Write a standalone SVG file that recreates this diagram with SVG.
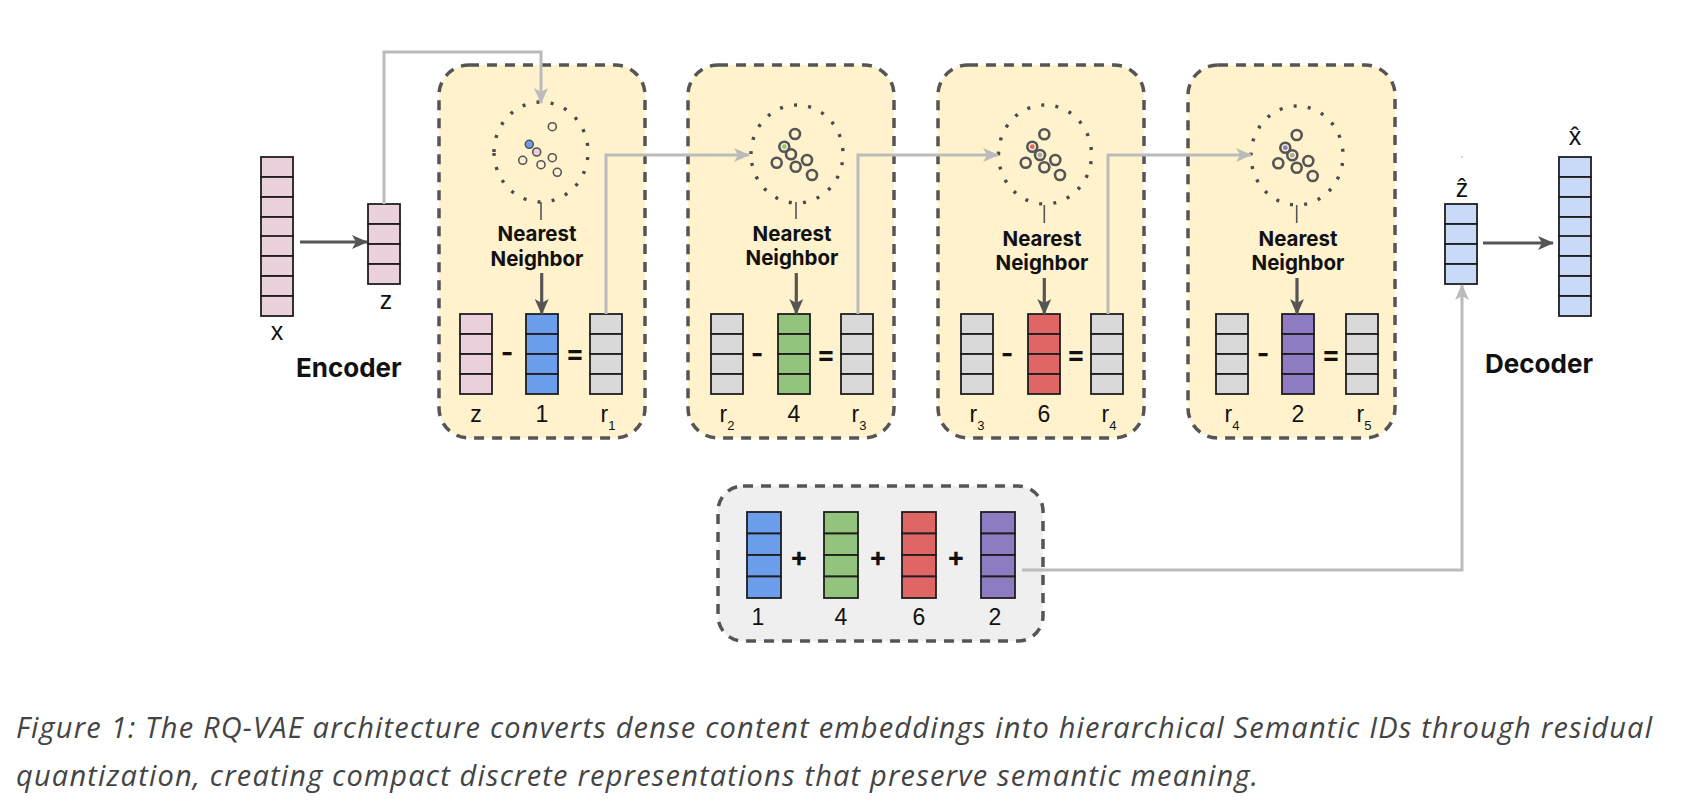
<svg xmlns="http://www.w3.org/2000/svg" xmlns:xlink="http://www.w3.org/1999/xlink" width="1692" height="801" viewBox="0 0 1692 801">
<style>
  .cell { stroke:#1e1e1e; stroke-width:1.8; }
  .pink { fill:#ead1dc; } .blue { fill:#6d9eeb; } .green { fill:#93c47d; }
  .red { fill:#e06666; } .purple { fill:#8e7cc3; } .gray { fill:#d9d9d9; } .lblue { fill:#c9daf8; }
  .box { fill:#fff2cc; stroke:#555; stroke-width:3.5; stroke-dasharray:10 8; }
  .sumbox { fill:#efefef; stroke:#555; stroke-width:3.5; stroke-dasharray:10 8; }
  .dots { fill:none; stroke:#4a4a4a; stroke-width:3.4; stroke-dasharray:3 11.3; }
  .pt1 { fill:none; stroke:#555; stroke-width:1.6; }
  .pt { fill:none; stroke:#555; stroke-width:2.6; }
  .tick { stroke:#555; stroke-width:1.6; }
  .darr { fill:none; stroke:#555; stroke-width:3.2; marker-end:url(#dhead); }
  .garr { fill:none; stroke:#bbb; stroke-width:3; marker-end:url(#ghead); }
  .nn { font-family:Inter, "Liberation Sans", sans-serif; font-weight:700; font-size:20.5px; fill:#111; text-anchor:middle; }
  .lbl { font-family:"Liberation Sans", Arial, sans-serif; font-size:23px; fill:#111; text-anchor:middle; }
  .sub { font-size:13px; }
  .big { font-family:"Liberation Sans", "DejaVu Sans", Arial, sans-serif; font-size:25px; fill:#111; text-anchor:middle; }
  .op { font-family:Inter, "Liberation Sans", sans-serif; font-weight:700; font-size:27px; fill:#111; text-anchor:middle; }
  .title { font-family:Inter, "Liberation Sans", sans-serif; font-weight:700; font-size:26px; fill:#111; }
  .cap { font-family:"Open Sans", "Noto Sans", sans-serif; font-style:italic; font-size:29px; fill:#444; }
</style>
<defs>
  <g id="v4">
    <rect class="cell" x="0" y="0" width="32" height="20"/>
    <rect class="cell" x="0" y="20" width="32" height="20"/>
    <rect class="cell" x="0" y="40" width="32" height="20"/>
    <rect class="cell" x="0" y="60" width="32" height="20"/>
  </g>
  <g id="v8">
    <use xlink:href="#v4"/>
    <use xlink:href="#v4" y="79"/>
  </g>
  <g id="v4b">
    <rect class="cell" x="0" y="0" width="34" height="21.5"/>
    <rect class="cell" x="0" y="21.5" width="34" height="21.5"/>
    <rect class="cell" x="0" y="43" width="34" height="21.5"/>
    <rect class="cell" x="0" y="64.5" width="34" height="21.5"/>
  </g>
  <marker id="dhead" markerUnits="userSpaceOnUse" markerWidth="18" markerHeight="18" viewBox="0 0 18 18" refX="16" refY="9" orient="auto">
    <path d="M1,2 L17,9 L1,16 L5,9 z" fill="#555"/>
  </marker>
  <marker id="ghead" markerUnits="userSpaceOnUse" markerWidth="18" markerHeight="18" viewBox="0 0 18 18" refX="16" refY="9" orient="auto">
    <path d="M1,2 L17,9 L1,16 L5,9 z" fill="#bbb"/>
  </marker>
</defs>

<rect x="0" y="0" width="1692" height="801" fill="#ffffff"/>

<!-- Encoder -->
<g id="encoder">
  <use xlink:href="#v8" class="pink" x="261" y="157"/>
  <text class="big" x="277" y="340">x</text>
  <use xlink:href="#v4" class="pink" x="368" y="204"/>
  <text class="big" x="386" y="309">z</text>
  <text class="title" x="296" y="377">Encoder</text>
</g>

<!-- Quantizer stage 1 -->
<g id="stage1">
  <rect class="box" x="439" y="65" width="206" height="373" rx="30"/>
  <ellipse class="dots" cx="541" cy="152" rx="47" ry="50" transform="rotate(180 541 152)"/>
  <circle class="pt1" cx="552.3" cy="126.7" r="4"/>
  <circle cx="529.3" cy="144.3" r="4" fill="#6d9eeb" stroke="#555" stroke-width="1.6"/>
  <circle cx="536.7" cy="152" r="4" fill="#ead1dc" stroke="#555" stroke-width="1.6"/>
  <circle class="pt1" cx="522.7" cy="160.3" r="4"/>
  <circle class="pt1" cx="541" cy="164.7" r="4"/>
  <circle class="pt1" cx="552.3" cy="157.7" r="4"/>
  <circle class="pt1" cx="557.3" cy="172.3" r="4"/>
  <line class="tick" x1="541" y1="202" x2="541" y2="220"/>
  <text class="nn" x="537" y="241">Nearest</text>
  <text class="nn" x="537" y="266">Neighbor</text>
  <use xlink:href="#v4" class="pink" x="460" y="314"/>
  <use xlink:href="#v4" class="blue" x="526" y="314"/>
  <use xlink:href="#v4" class="gray" x="590" y="314"/>
  <text class="op" x="507" y="362">-</text>
  <text class="op" x="575" y="363">=</text>
  <text class="lbl" x="476" y="422">z</text>
  <text class="lbl" x="542" y="422">1</text>
  <text class="lbl" x="608" y="422">r<tspan class="sub" dy="8">1</tspan></text>
</g>

<!-- Quantizer stage 2 -->
<g id="stage2">
  <rect class="box" x="688" y="65" width="206" height="373" rx="30"/>
  <ellipse class="dots" cx="797" cy="154" rx="46" ry="49" transform="rotate(180 797 154)"/>
  <circle class="pt" cx="795" cy="134" r="5"/>
  <circle class="pt" cx="784.3" cy="146.7" r="5"/>
  <circle cx="784.3" cy="146.7" r="2.4" fill="#93c47d"/>
  <circle class="pt" cx="791" cy="154.3" r="5"/>
  <circle class="pt" cx="776.7" cy="162.7" r="5"/>
  <circle class="pt" cx="795.7" cy="166.7" r="5"/>
  <circle class="pt" cx="807" cy="160" r="5"/>
  <circle class="pt" cx="812" cy="175" r="5"/>
  <line class="tick" x1="796" y1="202" x2="796" y2="219"/>
  <text class="nn" x="792" y="241">Nearest</text>
  <text class="nn" x="792" y="265">Neighbor</text>
  <use xlink:href="#v4" class="gray" x="711" y="314"/>
  <use xlink:href="#v4" class="green" x="778" y="314"/>
  <use xlink:href="#v4" class="gray" x="841" y="314"/>
  <text class="op" x="757" y="363">-</text>
  <text class="op" x="826" y="364">=</text>
  <text class="lbl" x="727" y="422">r<tspan class="sub" dy="8">2</tspan></text>
  <text class="lbl" x="794" y="422">4</text>
  <text class="lbl" x="859" y="422">r<tspan class="sub" dy="8">3</tspan></text>
</g>

<!-- Quantizer stage 3 -->
<g id="stage3">
  <rect class="box" x="938" y="65" width="206" height="373" rx="30"/>
  <ellipse class="dots" cx="1045" cy="154.5" rx="46.5" ry="49.5" transform="rotate(180 1045 154.5)"/>
  <circle class="pt" cx="1044.3" cy="134.3" r="5"/>
  <circle class="pt" cx="1032.3" cy="146.7" r="5"/>
  <circle cx="1032.3" cy="146.7" r="2.4" fill="#e06666"/>
  <circle class="pt" cx="1040" cy="155" r="5"/>
  <circle cx="1040" cy="155" r="2.4" fill="#aaa"/>
  <circle class="pt" cx="1025.7" cy="162.7" r="5"/>
  <circle class="pt" cx="1044.3" cy="167.3" r="5"/>
  <circle class="pt" cx="1055.3" cy="160" r="5"/>
  <circle class="pt" cx="1060" cy="175" r="5"/>
  <line class="tick" x1="1044.3" y1="205" x2="1044.3" y2="223"/>
  <text class="nn" x="1042" y="246">Nearest</text>
  <text class="nn" x="1042" y="270">Neighbor</text>
  <use xlink:href="#v4" class="gray" x="961" y="314"/>
  <use xlink:href="#v4" class="red" x="1028" y="314"/>
  <use xlink:href="#v4" class="gray" x="1091" y="314"/>
  <text class="op" x="1007" y="363">-</text>
  <text class="op" x="1076" y="364">=</text>
  <text class="lbl" x="977" y="422">r<tspan class="sub" dy="8">3</tspan></text>
  <text class="lbl" x="1044" y="422">6</text>
  <text class="lbl" x="1109" y="422">r<tspan class="sub" dy="8">4</tspan></text>
</g>

<!-- Quantizer stage 4 -->
<g id="stage4">
  <rect class="box" x="1188" y="65" width="207" height="373" rx="30"/>
  <ellipse class="dots" cx="1297" cy="155.5" rx="46" ry="49.5" transform="rotate(180 1297 155.5)"/>
  <circle class="pt" cx="1296.7" cy="135" r="5"/>
  <circle class="pt" cx="1285.3" cy="147.7" r="5"/>
  <circle cx="1285.3" cy="147.7" r="2.4" fill="#8e7cc3"/>
  <circle class="pt" cx="1292.3" cy="155.3" r="5"/>
  <circle cx="1292.3" cy="155.3" r="2.4" fill="#aaa"/>
  <circle class="pt" cx="1278.3" cy="163.3" r="5"/>
  <circle class="pt" cx="1296.7" cy="167.7" r="5"/>
  <circle class="pt" cx="1308.3" cy="161" r="5"/>
  <circle class="pt" cx="1312.7" cy="176" r="5"/>
  <line class="tick" x1="1296.7" y1="205" x2="1296.7" y2="223"/>
  <text class="nn" x="1298" y="246">Nearest</text>
  <text class="nn" x="1298" y="270">Neighbor</text>
  <use xlink:href="#v4" class="gray" x="1216" y="314"/>
  <use xlink:href="#v4" class="purple" x="1282" y="314"/>
  <use xlink:href="#v4" class="gray" x="1346" y="314"/>
  <text class="op" x="1263" y="363">-</text>
  <text class="op" x="1331" y="364">=</text>
  <text class="lbl" x="1232" y="422">r<tspan class="sub" dy="8">4</tspan></text>
  <text class="lbl" x="1298" y="422">2</text>
  <text class="lbl" x="1364" y="422">r<tspan class="sub" dy="8">5</tspan></text>
</g>

<!-- Sum of codewords -->
<g id="sum">
  <rect class="sumbox" x="718" y="486" width="325" height="155" rx="25"/>
  <use xlink:href="#v4b" class="blue" x="747" y="512"/>
  <use xlink:href="#v4b" class="green" x="824" y="512"/>
  <use xlink:href="#v4b" class="red" x="902" y="512"/>
  <use xlink:href="#v4b" class="purple" x="981" y="512"/>
  <text class="op" x="799" y="566">+</text>
  <text class="op" x="878" y="566">+</text>
  <text class="op" x="956" y="566">+</text>
  <text class="lbl" x="758" y="625">1</text>
  <text class="lbl" x="841" y="625">4</text>
  <text class="lbl" x="919" y="625">6</text>
  <text class="lbl" x="995" y="625">2</text>
</g>

<!-- Decoder -->
<g id="decoder">
  <circle cx="1462" cy="157" r="0.8" fill="#999"/>
  <text class="big" x="1462" y="197">ẑ</text>
  <use xlink:href="#v4" class="lblue" x="1445" y="204"/>
  <text class="big" x="1575" y="145">x̂</text>
  <use xlink:href="#v8" class="lblue" x="1559" y="157"/>
  <text class="title" x="1485" y="373">Decoder</text>
</g>

<!-- Connectors -->
<g id="connectors">
  <path class="darr" d="M300,242 L367,242"/>
  <path class="darr" d="M1483,243 L1553,243"/>
  <path class="darr" d="M541.7,273 L541.7,314"/>
  <path class="darr" d="M796.3,273 L796.3,314"/>
  <path class="darr" d="M1044.3,278 L1044.3,314"/>
  <path class="darr" d="M1297,278 L1297,314"/>
  <path class="garr" d="M384,204 L384,52 L541,52 L541,103"/>
  <path class="garr" d="M606,314 L606,155 L749,155"/>
  <path class="garr" d="M858,314 L858,155 L998,155"/>
  <path class="garr" d="M1108,314 L1108,155 L1251,155"/>
  <path class="garr" d="M1022,570 L1462,570 L1462,285"/>
</g>

<!-- Caption -->
<g id="caption">
  <text class="cap" x="16" y="738" textLength="1636" lengthAdjust="spacing">Figure 1: The RQ-VAE architecture converts dense content embeddings into hierarchical Semantic IDs through residual</text>
  <text class="cap" x="16" y="786" textLength="1242" lengthAdjust="spacing">quantization, creating compact discrete representations that preserve semantic meaning.</text>
</g>
</svg>
